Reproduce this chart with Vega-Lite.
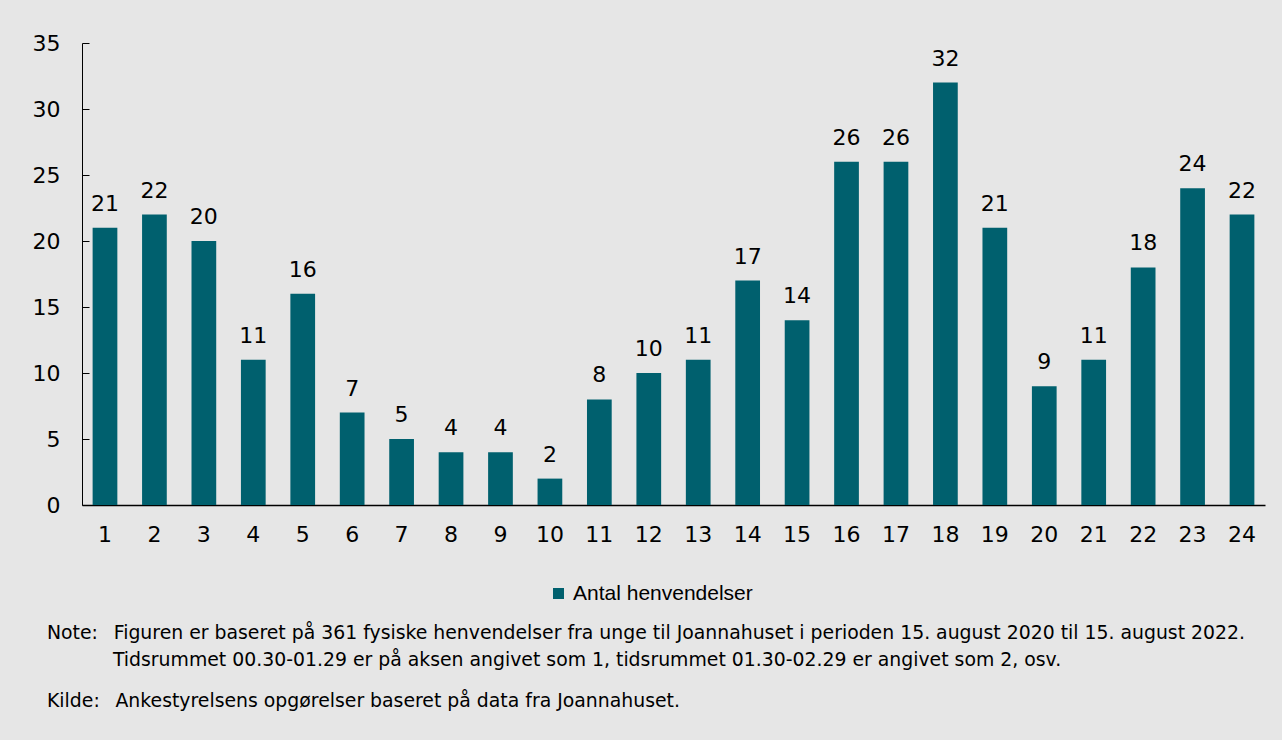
{
  "$schema": "https://vega.github.io/schema/vega-lite/v6.json",
  "width": 1183,
  "height": 462,
  "padding": {"left": 32, "top": 32, "right": 20, "bottom": 35},
  "background": "#e6e6e6",
  "config": {"view": {"stroke": null}, "font": "DejaVu Sans"},
  "data": {"values": [
    {"time": "1", "antal": 21}, {"time": "2", "antal": 22}, {"time": "3", "antal": 20},
    {"time": "4", "antal": 11}, {"time": "5", "antal": 16}, {"time": "6", "antal": 7},
    {"time": "7", "antal": 5}, {"time": "8", "antal": 4}, {"time": "9", "antal": 4},
    {"time": "10", "antal": 2}, {"time": "11", "antal": 8}, {"time": "12", "antal": 10},
    {"time": "13", "antal": 11}, {"time": "14", "antal": 17}, {"time": "15", "antal": 14},
    {"time": "16", "antal": 26}, {"time": "17", "antal": 26}, {"time": "18", "antal": 32},
    {"time": "19", "antal": 21}, {"time": "20", "antal": 9}, {"time": "21", "antal": 11},
    {"time": "22", "antal": 18}, {"time": "23", "antal": 24}, {"time": "24", "antal": 22}
  ]},
  "title": {
    "text": [
      "Note:\u00a0\u00a0\u2009Figuren er baseret på 361 fysiske henvendelser fra unge til Joannahuset i perioden 15. august 2020 til 15. august 2022.",
      "\u200b\u00a0\u00a0\u00a0\u00a0\u00a0\u00a0\u00a0\u00a0\u00a0\u00a0\u00a0Tidsrummet 00.30-01.29 er på aksen angivet som 1, tidsrummet 01.30-02.29 er angivet som 2, osv."
    ],
    "subtitle": "Kilde:\u00a0\u00a0\u2009Ankestyrelsens opgørelser baseret på data fra Joannahuset.",
    "orient": "bottom",
    "anchor": "start",
    "frame": "group",
    "dx": -35,
    "offset": 20,
    "fontSize": 18.85,
    "fontWeight": "normal",
    "lineHeight": 27,
    "color": "#000000",
    "subtitleFontSize": 18.85,
    "subtitleColor": "#000000",
    "subtitlePadding": 22,
    "subtitleLineHeight": 27
  },
  "encoding": {
    "x": {
      "field": "time", "type": "ordinal", "sort": null,
      "scale": {"paddingInner": 0.5, "paddingOuter": 0.215},
      "axis": {
        "title": null, "ticks": false, "labelAngle": 0, "labelFontSize": 22,
        "labelColor": "#000000", "labelPadding": 19, "domainColor": "#000000", "domainWidth": 1.5
      }
    },
    "y": {
      "field": "antal", "type": "quantitative",
      "scale": {"domain": [0, 35], "nice": false},
      "axis": {
        "title": null, "grid": false, "values": [0, 5, 10, 15, 20, 25, 30, 35],
        "labelFontSize": 22, "labelColor": "#000000", "labelPadding": 29,
        "tickSize": -7, "tickColor": "#000000", "domainColor": "#000000"
      }
    }
  },
  "layer": [
    {
      "mark": {"type": "bar", "color": "#00606e"},
      "encoding": {
        "color": {
          "datum": "Antal henvendelser", "type": "nominal",
          "scale": {"range": ["#00606e"]},
          "legend": {
            "title": null, "orient": "none", "legendX": 466, "legendY": 540,
            "symbolType": "square", "symbolSize": 121, "symbolStrokeWidth": 0,
            "labelFont": "Liberation Sans", "labelFontSize": 21, "labelColor": "#000000",
            "labelOffset": 4, "labelLimit": 400, "direction": "horizontal"
          }
        }
      }
    },
    {
      "mark": {"type": "text", "baseline": "alphabetic", "dy": -17, "fontSize": 22, "color": "#000000"},
      "encoding": {"text": {"field": "antal", "type": "quantitative"}}
    }
  ]
}
